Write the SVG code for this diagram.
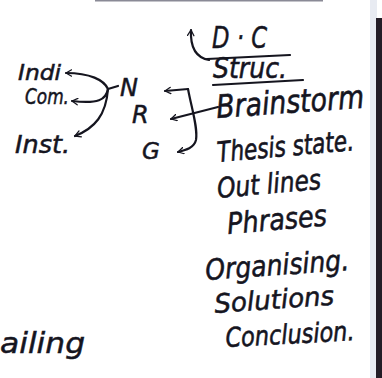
<svg xmlns="http://www.w3.org/2000/svg" width="382" height="378" viewBox="0 0 382 378">
<defs>
<marker id="ah" viewBox="0 0 10 10" refX="8" refY="5" markerWidth="8" markerHeight="8" orient="auto" markerUnits="userSpaceOnUse">
<path d="M1,1 L8,5 L1,9" fill="none" stroke="#15151f" stroke-width="1.6" stroke-linecap="round" stroke-linejoin="round"/>
</marker>
<style>
text{font-family:"DejaVu Sans","Liberation Sans",sans-serif;fill:#15151f;font-style:italic;stroke:#15151f;stroke-width:0.5}
.c{fill:none;stroke:#15151f;stroke-width:2.2;stroke-linecap:round;stroke-linejoin:round}
.a{marker-end:url(#ah)}
</style>
</defs>
<rect width="382" height="378" fill="#ffffff"/>
<rect x="95" y="0" width="228" height="1.5" fill="#8a8a96"/>
<rect x="370" y="0" width="7" height="378" fill="#e8ebf2"/>
<rect x="376" y="18" width="6" height="360" fill="#231c26"/>
<g id="connectors">
<path class="c" d="M207,59 L290,55"/>
<path class="c" d="M213,85 L303,80"/>
<path class="c a" d="M209,60 C198,58 190,50 191,30"/>
<path class="c" d="M118,86 L108,89"/>
<path class="c a" d="M108,89 C104,80 90,73 66,73"/>
<path class="c a" d="M108,89 C106,100 98,104 72,101"/>
<path class="c a" d="M108,89 C106,115 95,128 75,136"/>
<path class="c a" d="M188,89 L165,91"/>
<path class="c a" d="M188,89 C192,110 198,128 196,140 C194,148 186,150 178,152"/>
<path class="c a" d="M218,107 L171,119"/>
</g>
<g id="dc"><text x="212" y="48" font-size="30" textLength="55" lengthAdjust="spacingAndGlyphs">D · C</text></g>
<g id="struc"><text transform="translate(213 78) scale(1 1.1)" font-size="25" textLength="74" lengthAdjust="spacingAndGlyphs">Struc.</text></g>
<g id="indi"><text x="18" y="80" font-size="21" textLength="43" lengthAdjust="spacingAndGlyphs">Indi</text></g>
<g id="com"><text x="25" y="104" font-size="21" textLength="44" lengthAdjust="spacingAndGlyphs">Com.</text></g>
<g id="inst"><text x="15" y="153" font-size="24" textLength="55" lengthAdjust="spacingAndGlyphs">Inst.</text></g>
<g id="n"><text x="120" y="96" font-size="24">N</text></g>
<g id="r"><text x="132" y="123" font-size="24">R</text></g>
<g id="g"><text x="142" y="159" font-size="23">G</text></g>
<g id="brainstorm"><text transform="translate(217 118) rotate(-4) scale(1 1.2)" font-size="26.7" textLength="148" lengthAdjust="spacingAndGlyphs">Brainstorm</text></g>
<g id="thesis"><text transform="translate(218 162) rotate(-5) scale(1 1.3)" font-size="21.6" textLength="137" lengthAdjust="spacingAndGlyphs">Thesis state.</text></g>
<g id="outlines"><text transform="translate(218 198) rotate(-5) scale(1 1.2)" font-size="23.3" textLength="104" lengthAdjust="spacingAndGlyphs">Out lines</text></g>
<g id="phrases"><text transform="translate(228 234) rotate(-5) scale(1 1.15)" font-size="25.5" textLength="100" lengthAdjust="spacingAndGlyphs">Phrases</text></g>
<g id="organising"><text transform="translate(206 280) rotate(-4) scale(1 1.15)" font-size="25" textLength="144" lengthAdjust="spacingAndGlyphs">Organising.</text></g>
<g id="solutions"><text transform="translate(215 313) rotate(-4) scale(1 1.05)" font-size="25" textLength="120" lengthAdjust="spacingAndGlyphs">Solutions</text></g>
<g id="conclusion"><text transform="translate(226 347) rotate(-3) scale(1 1.2)" font-size="22.4" textLength="129" lengthAdjust="spacingAndGlyphs">Conclusion.</text></g>
<g id="ailing"><text x="0" y="353" font-size="28" textLength="85" lengthAdjust="spacingAndGlyphs">ailing</text></g>
</svg>
